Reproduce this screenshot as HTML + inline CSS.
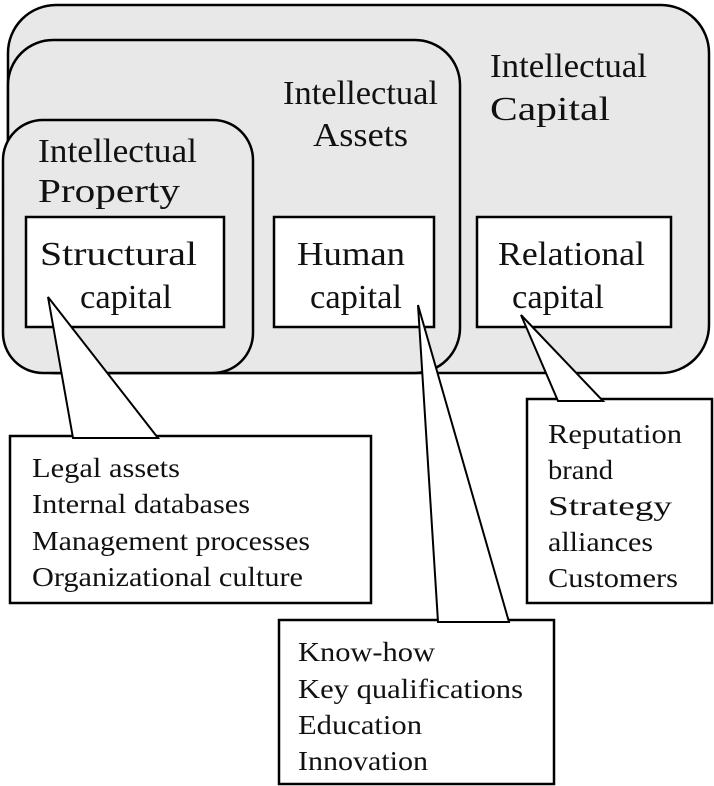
<!DOCTYPE html>
<html><head><style>body{margin:0;background:#fff}svg{display:block}text{font-family:"Liberation Serif",serif;fill:#111}</style></head><body>
<svg width="714" height="786" viewBox="0 0 714 786" xmlns="http://www.w3.org/2000/svg">
<g stroke="#000" stroke-width="2.5" fill="#e8e8e8">
<rect x="8" y="5" width="701" height="368" rx="48"/>
<rect x="8" y="40" width="452" height="333" rx="45"/>
<rect x="3" y="120" width="250" height="253" rx="40"/>
</g>
<g stroke="#000" stroke-width="2.5" fill="#fff">
<rect x="26" y="217" width="198" height="110"/>
<rect x="274" y="217" width="160" height="110"/>
<rect x="477" y="217" width="194" height="110"/>
<rect x="10" y="436" width="361" height="167"/>
<rect x="527" y="399" width="185" height="204"/>
<rect x="279" y="620" width="275" height="164"/>
</g>
<g stroke="#000" stroke-width="2" fill="#fff">
<polygon points="48,297 73,438 158,438"/>
<polygon points="418,305 438,622 509,622"/>
<polygon points="521,315 558,401 603,401"/>
</g>
<g font-size="34">
<text x="490" y="77" textLength="157" lengthAdjust="spacingAndGlyphs">Intellectual</text>
<text x="490" y="120" textLength="120" lengthAdjust="spacingAndGlyphs">Capital</text>
<text x="283" y="104" textLength="155" lengthAdjust="spacingAndGlyphs">Intellectual</text>
<text x="313" y="146" textLength="95" lengthAdjust="spacingAndGlyphs">Assets</text>
<text x="38" y="162" textLength="159" lengthAdjust="spacingAndGlyphs">Intellectual</text>
<text x="38" y="202" textLength="142" lengthAdjust="spacingAndGlyphs">Property</text>
<text x="40" y="265" textLength="157" lengthAdjust="spacingAndGlyphs">Structural</text>
<text x="80" y="308" textLength="92" lengthAdjust="spacingAndGlyphs">capital</text>
<text x="297" y="265" textLength="108" lengthAdjust="spacingAndGlyphs">Human</text>
<text x="310" y="308" textLength="92" lengthAdjust="spacingAndGlyphs">capital</text>
<text x="498" y="265" textLength="147" lengthAdjust="spacingAndGlyphs">Relational</text>
<text x="512" y="308" textLength="92" lengthAdjust="spacingAndGlyphs">capital</text>
</g>
<g font-size="27">
<text x="32" y="477" textLength="148" lengthAdjust="spacingAndGlyphs">Legal assets</text>
<text x="32" y="513" textLength="218" lengthAdjust="spacingAndGlyphs">Internal databases</text>
<text x="32" y="550" textLength="278" lengthAdjust="spacingAndGlyphs">Management processes</text>
<text x="32" y="586" textLength="271" lengthAdjust="spacingAndGlyphs">Organizational culture</text>
<text x="548" y="443" textLength="134" lengthAdjust="spacingAndGlyphs">Reputation</text>
<text x="548" y="479" textLength="65" lengthAdjust="spacingAndGlyphs">brand</text>
<text x="548" y="515" textLength="124" lengthAdjust="spacingAndGlyphs">Strategy</text>
<text x="548" y="551" textLength="105" lengthAdjust="spacingAndGlyphs">alliances</text>
<text x="548" y="587" textLength="130" lengthAdjust="spacingAndGlyphs">Customers</text>
<text x="298" y="661" textLength="137" lengthAdjust="spacingAndGlyphs">Know-how</text>
<text x="298" y="698" textLength="225" lengthAdjust="spacingAndGlyphs">Key qualifications</text>
<text x="298" y="734" textLength="124" lengthAdjust="spacingAndGlyphs">Education</text>
<text x="298" y="770" textLength="130" lengthAdjust="spacingAndGlyphs">Innovation</text>
</g>
</svg>
</body></html>
